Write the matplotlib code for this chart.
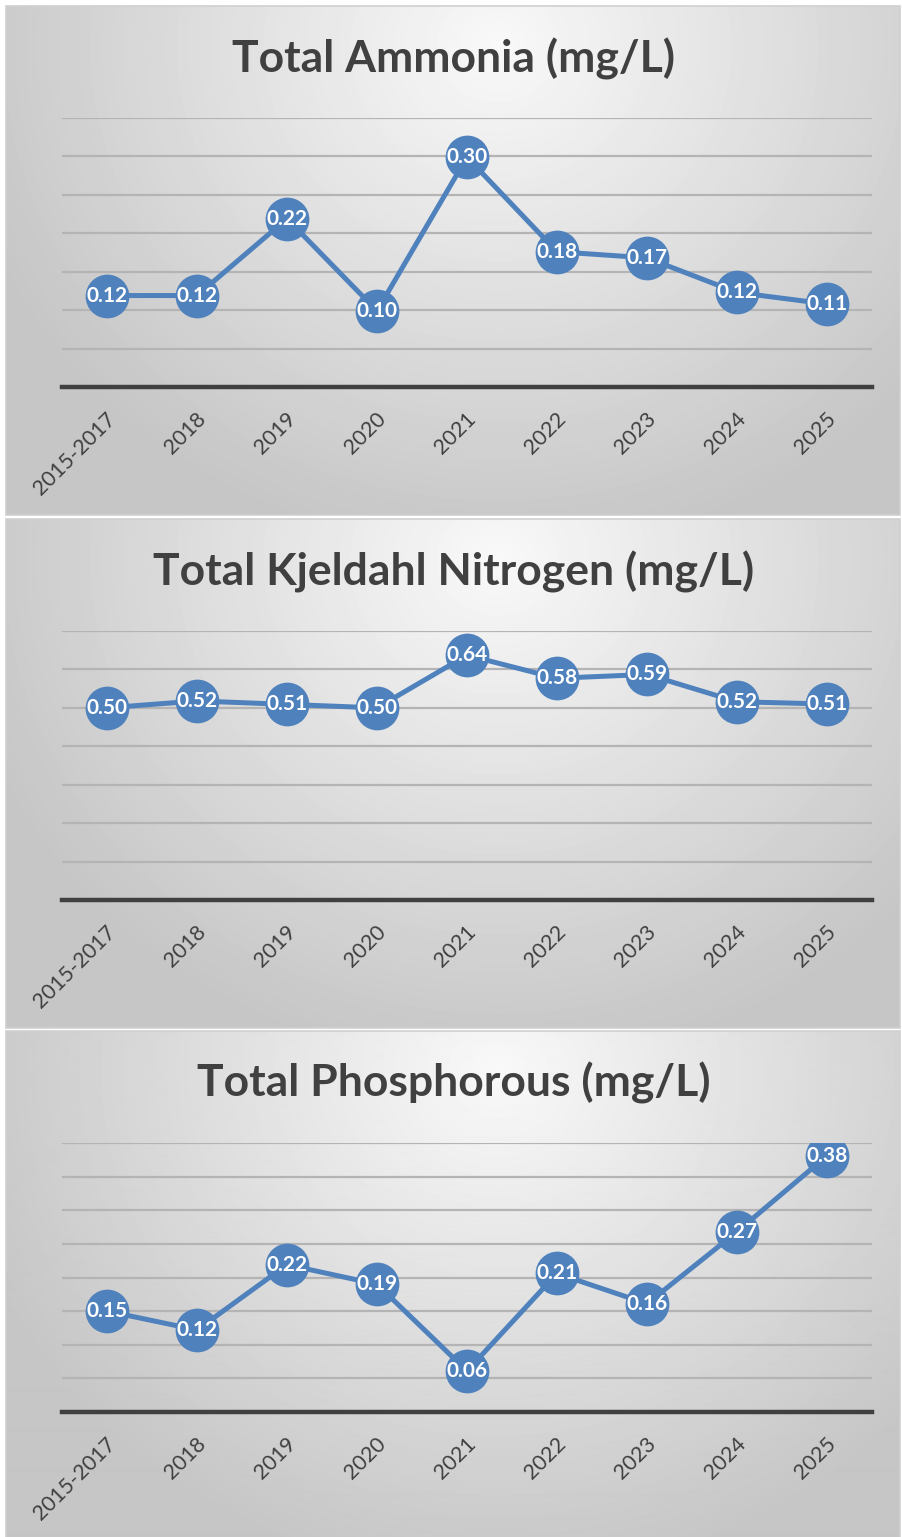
import numpy as np
import matplotlib.pyplot as plt
import matplotlib.transforms as mtransforms
from matplotlib.patches import Rectangle

# ==================== Data ====================
years = ["2015-2017", "2018", "2019", "2020", "2021", "2022", "2023", "2024", "2025"]

ammonia = [0.119, 0.119, 0.219, 0.099, 0.299, 0.176, 0.168, 0.123, 0.108]
kjeldahl = [0.500, 0.518, 0.509, 0.500, 0.637, 0.577, 0.587, 0.516, 0.510]
phosphorous = [0.150, 0.122, 0.219, 0.190, 0.061, 0.206, 0.161, 0.268, 0.381]

titles = ["Total Ammonia (mg/L)", "Total Kjeldahl Nitrogen (mg/L)", "Total Phosphorous (mg/L)"]
series = [ammonia, kjeldahl, phosphorous]
y_max = [0.35, 0.70, 0.40]
y_step = [0.05, 0.10, 0.05]

FONT = ["Lato", "DejaVu Sans"]
BLUE = "#4f81bd"
DARK = "#404040"

W, H = 902, 1537
fig = plt.figure(figsize=(W / 100, H / 100), dpi=100)
fig.patch.set_facecolor("white")


def px_rect(x0, y0, x1, y1):
    """pixel box (top-left origin) -> figure fraction rect"""
    return [x0 / W, 1 - y1 / H, (x1 - x0) / W, (y1 - y0) / H]


# radial grey gradient used by every panel
ph, pw = 509, 894
yy, xx = np.mgrid[0:ph, 0:pw]
d = np.hypot((xx - 0.55 * pw) / (0.62 * pw), (yy - 0.08 * ph) / (1.0 * ph))
grad = 0.975 - 0.2 * np.clip(d, 0, 1)

panel_tops = [6, 519, 1031]

for top, title, vals, ymax, step in zip(panel_tops, titles, series, y_max, y_step):
    # ---- panel background ----
    bg = fig.add_axes(px_rect(6, top, 6 + pw, top + ph))
    bg.imshow(grad, cmap="gray", vmin=0, vmax=1, aspect="auto",
              extent=(0, 1, 0, 1), origin="upper", interpolation="bilinear")
    bg.set_xlim(0, 1)
    bg.set_ylim(0, 1)
    bg.axis("off")
    bg.add_patch(Rectangle((0, 0), 1, 1, transform=bg.transAxes, fill=False,
                           edgecolor="#d0d0d0", lw=1.2, clip_on=False))

    # title
    fig.text(454 / W, 1 - (top + 66) / H, title, ha="center", va="baseline",
             fontsize=32, fontweight="bold", color=DARK, family=FONT)

    # ---- chart ----
    ax = fig.add_axes(px_rect(62, top + 112, 872, top + 381))
    ax.patch.set_alpha(0)
    x = np.arange(len(years))
    ax.set_xlim(-0.5, len(years) - 0.5)
    ax.set_ylim(0, ymax)
    ax.set_yticks(np.arange(0, ymax + step / 2, step))
    ax.yaxis.grid(True, color="#b4b4b4", lw=1.6)
    ax.set_axisbelow(True)
    ax.tick_params(axis="y", length=0, labelleft=False)
    for s in ["top", "left", "right"]:
        ax.spines[s].set_visible(False)
    ax.spines["bottom"].set_color(DARK)
    ax.spines["bottom"].set_linewidth(3.2)
    ax.spines["bottom"].set_zorder(1)

    ax.plot(x, vals, color=BLUE, lw=3.6, marker="o", markersize=31.5,
            markeredgewidth=0, zorder=3, solid_joinstyle="round")
    for xi, v in zip(x, vals):
        ax.text(xi, v, f"{v:.2f}", ha="center", va="center", color="white",
                fontsize=15, fontweight="bold", family=FONT, zorder=4)

    ax.set_xticks(x)
    ax.set_xticklabels(years, rotation=45, ha="right", va="center",
                       rotation_mode="anchor", fontsize=15.5, color=DARK,
                       family=FONT)
    ax.tick_params(axis="x", length=0, pad=21)
    shift = mtransforms.ScaledTranslation(6 / 100, 0, fig.dpi_scale_trans)
    for lab in ax.get_xticklabels():
        lab.set_transform(lab.get_transform() + shift)

fig.savefig("out.png", dpi=100)
